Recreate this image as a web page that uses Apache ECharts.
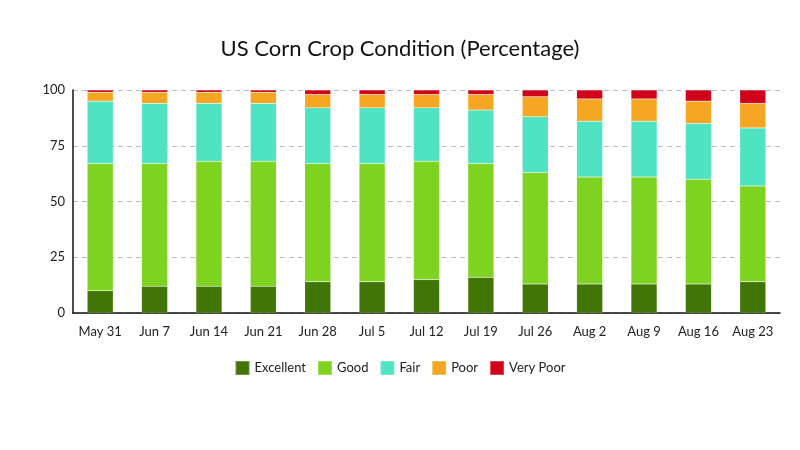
<!DOCTYPE html>
<html>
<head>
<meta charset="utf-8">
<script src="https://cdn.jsdelivr.net/npm/echarts@6/dist/echarts.min.js"></script>
<style>
  html, body { margin: 0; padding: 0; background: #fff; }
  #chart { width: 800px; height: 450px; }
</style>
</head>
<body>
<div id="chart"></div>
<script>
// weeks + condition shares (percent)
const weeks = ['May 31', 'Jun 7', 'Jun 14', 'Jun 21', 'Jun 28', 'Jul 5', 'Jul 12', 'Jul 19', 'Jul 26', 'Aug 2', 'Aug 9', 'Aug 16', 'Aug 23'];
const excellent = [10, 12, 12, 12, 14, 14, 15, 16, 13, 13, 13, 13, 14];
const good      = [57, 55, 56, 56, 53, 53, 53, 51, 50, 48, 48, 47, 43];
const fair      = [28, 27, 26, 26, 25, 25, 24, 24, 25, 25, 25, 25, 26];
const poor      = [4, 5, 5, 5, 6, 6, 6, 7, 9, 10, 10, 10, 11];
const veryPoor  = [1, 1, 1, 1, 2, 2, 2, 2, 3, 4, 4, 5, 6];

const names = ['Excellent', 'Good', 'Fair', 'Poor', 'Very Poor'];
const colors = ['#417505', '#7ED321', '#50E3C2', '#F5A623', '#D0021B'];
const values = [excellent, good, fair, poor, veryPoor];

const myChart = echarts.init(document.getElementById('chart'));
const font = 'Lato, sans-serif';

myChart.setOption({
    animation: false,
    textStyle: { fontFamily: font },
    title: {
        text: 'US Corn Crop Condition (Percentage)',
        left: 'center',
        top: 33,
        textStyle: { fontFamily: font, fontSize: 22, fontWeight: 'normal', color: '#111' }
    },
    legend: {
        data: names,
        bottom: 69,
        left: 'center',
        itemWidth: 14,
        itemHeight: 14,
        itemGap: 11,
        icon: 'rect',
        textStyle: { fontFamily: font, fontSize: 13, color: '#222' }
    },
    grid: { left: 73, right: 20, top: 90, bottom: 137 },
    xAxis: {
        type: 'category',
        data: weeks,
        axisLine: { lineStyle: { color: '#111', width: 1.5 } },
        axisTick: { show: false },
        axisLabel: { interval: 0, fontFamily: font, fontSize: 13, color: '#222', margin: 12 }
    },
    yAxis: {
        type: 'value',
        min: 0,
        max: 100,
        interval: 25,
        axisLine: { show: true, lineStyle: { color: '#111', width: 1.5 } },
        axisTick: { show: false },
        axisLabel: { fontFamily: font, fontSize: 13, color: '#222', margin: 8 },
        splitLine: { lineStyle: { color: '#bbb', type: [5, 4] } }
    },
    series: names.map((n, i) => ({
        name: n,
        type: 'bar',
        stack: 'total',
        barWidth: 26,
        color: colors[i],
        itemStyle: { borderColor: 'rgba(255,255,255,0.25)', borderWidth: 0.5 },
        data: values[i]
    }))
});
</script>
</body>
</html>
